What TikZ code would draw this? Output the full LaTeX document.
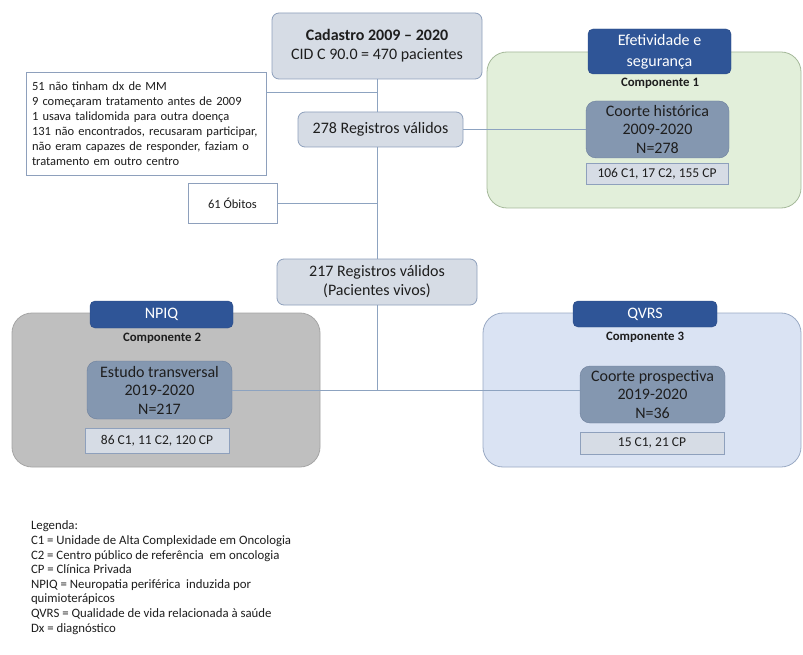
\documentclass[tikz,border=0pt]{standalone}
\usepackage{fontspec}
\setmainfont{Carlito}
\definecolor{boxfill}{HTML}{D6DCE5}
\definecolor{boxdraw}{HTML}{8EA0BC}
\definecolor{tabfill}{HTML}{2F5597}
\definecolor{tabdraw}{HTML}{2A4A85}
\definecolor{cofill}{HTML}{8497B0}
\definecolor{codraw}{HTML}{6C7F9C}
\definecolor{grfill}{HTML}{E2EFDA}
\definecolor{grdraw}{HTML}{A5B99A}
\definecolor{gyfill}{HTML}{BFBFBF}
\definecolor{gydraw}{HTML}{A5A5A5}
\definecolor{blfill}{HTML}{DAE3F3}
\definecolor{bldraw}{HTML}{9AAAC4}
\definecolor{linecol}{HTML}{8DA3C0}
\definecolor{txt}{HTML}{1E1E1E}
\begin{document}
\begin{tikzpicture}[x=1pt,y=-1pt,
  every node/.style={inner sep=0pt, outer sep=0pt, text=txt},
  lightbox/.style={draw=boxdraw, fill=boxfill, line width=0.8pt, rounded corners=7pt, align=center, font=\fontsize{16}{19}\selectfont},
  plainbox/.style={draw=boxdraw, fill=white, line width=0.8pt},
  container/.style={line width=0.8pt, rounded corners=20pt},
  tabbox/.style={draw=tabdraw, fill=tabfill, rounded corners=5pt, align=center, text=white, font=\fontsize{16}{21}\selectfont},
  cohort/.style={draw=codraw, fill=cofill, rounded corners=10pt, align=center, font=\fontsize{16}{18.5}\selectfont},
  countbox/.style={draw=boxdraw, fill=boxfill, line width=0.8pt, font=\fontsize{13.5}{15}\selectfont},
  complabel/.style={font=\bfseries\fontsize{12.8}{14}\selectfont},
  conn/.style={draw=linecol, line width=0.9pt}
]
\useasboundingbox (0,0) rectangle (803,655);
\fill[white] (0,0) rectangle (803,655);

% containers
\node[container, draw=grdraw, fill=grfill, minimum width=314pt, minimum height=156pt] (gcont) at (644,130) {};
\node[container, draw=gydraw, fill=gyfill, minimum width=308pt, minimum height=154pt] (ycont) at (166,390) {};
\node[container, draw=bldraw, fill=blfill, minimum width=318pt, minimum height=154pt] (bcont) at (642,390) {};

% main nodes
\node[lightbox, minimum width=210pt, minimum height=66pt] (cad) at (377,46) {\textbf{Cadastro 2009 – 2020}\\CID C 90.0 = 470 pacientes};
\node[plainbox, minimum width=240pt, minimum height=103pt, text width=228pt, align=left, font=\fontsize{12.5}{15}\selectfont] (excl) at (146,123.5) {51 não tinham dx de MM\\9 começaram tratamento antes de 2009\\1 usava talidomida para outra doença\\131 não encontrados, recusaram participar, não eram capazes de responder, faziam o tratamento em outro centro};
\node[lightbox, minimum width=165pt, minimum height=35pt] (r278) at (380.5,129.5) {278 Registros válidos};
\node[plainbox, minimum width=89pt, minimum height=40pt, font=\fontsize{12.5}{15}\selectfont] (obitos) at (232.5,203) {61 Óbitos};
\node[lightbox, minimum width=200pt, minimum height=46pt] (r217) at (377,282) {217 Registros válidos\\(Pacientes vivos)};

% component 1
\node[tabbox, minimum width=143pt, minimum height=45pt] (eftab) at (659.5,51.5) {Efetividade e\\segurança};
\node[complabel] (comp1) at (660,83) {Componente 1};
\node[cohort, minimum width=143pt, minimum height=57pt] (coh) at (657.5,129.5) {Coorte histórica\\2009-2020\\N=278};
\node[countbox, minimum width=142pt, minimum height=21pt] (cnt1) at (657,173.5) {106 C1, 17 C2, 155 CP};

% component 2
\node[tabbox, minimum width=143pt, minimum height=27pt] (npiqtab) at (161.5,314.5) {NPIQ};
\node[complabel] (comp2) at (162,338) {Componente 2};
\node[cohort, minimum width=145pt, minimum height=58pt] (est) at (159.5,390) {Estudo transversal\\2019-2020\\N=217};
\node[countbox, minimum width=144pt, minimum height=25pt] (cnt2) at (157,440.5) {86 C1, 11 C2, 120 CP};

% component 3
\node[tabbox, minimum width=144pt, minimum height=26pt] (qvrstab) at (645,314) {QVRS};
\node[complabel] (comp3) at (645,337) {Componente 3};
\node[cohort, minimum width=145pt, minimum height=57pt] (cop) at (652.5,394.5) {Coorte prospectiva\\2019-2020\\N=36};
\node[countbox, minimum width=144pt, minimum height=22pt] (cnt3) at (652,443) {15 C1, 21 CP};

% connectors
\coordinate (j1) at (377,92);
\draw[conn] (cad.south) -- (cad.south |- r278.north);
\draw[conn] (excl.east |- j1) -- (j1);
\draw[conn] (r278.east) -- (coh.west);
\draw[conn] (r278.south -| cad.south) -- (r217.north);
\draw[conn] (obitos.east) -- (obitos.east -| cad.south);
\draw[conn] (r217.south) -- (r217.south |- est.east);
\draw[conn] (est.east) -- (est.east -| cop.west);

% legend
\node[anchor=north west, align=left, font=\fontsize{12.8}{14.6}\selectfont] (leg) at (31,521) {Legenda:\\C1 = Unidade de Alta Complexidade em Oncologia\\C2 = Centro público de referência\ \ em oncologia\\CP = Clínica Privada\\NPIQ = Neuropatia periférica\ \ induzida por\\quimioterápicos\\QVRS = Qualidade de vida relacionada à saúde\\Dx = diagnóstico};
\end{tikzpicture}
\end{document}
